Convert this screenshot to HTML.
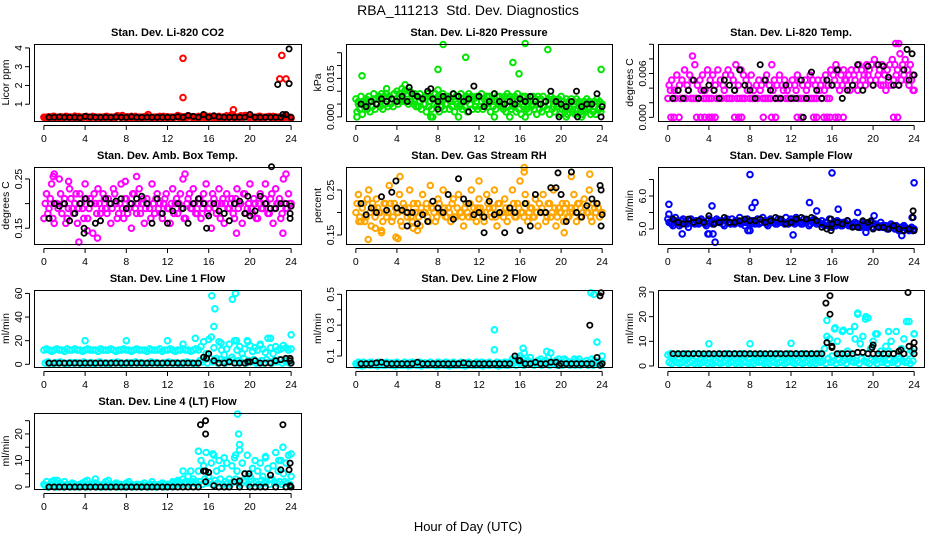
<!DOCTYPE html>
<html><head><meta charset="utf-8"><style>
html,body{margin:0;padding:0;background:#fff;}
svg{display:block;font-family:"Liberation Sans",Arial,sans-serif;}
</style></head><body>
<svg id="chart" width="936" height="540" viewBox="0 0 936 540">
<text x="468" y="15" text-anchor="middle" font-size="14">RBA_111213&#160; Std. Dev. Diagnostics</text>
<text x="468" y="531" text-anchor="middle" font-size="13">Hour of Day (UTC)</text>
</svg>
<script>
// ---------- data (hour grid: colored A from 0 step .25, colored B from .125 step .25, black from .5 step .5) ----------
const co2Red = [.3,.28,.33,.3,.35,.3,.27,.32,.3,.34,.29,.3,.36,.3,.28,.31,.33,.3,.29,.35,.3,.3,.27,.32,.34,.3,.31,.28,.3,.36,.3,.33,.29,.3,.35,.3,.28,.32,.3,.3,.34,.3,.29,.31,.3,.35,.3,.28,.33,.3,.3,.32,.4,.35,.3,.3,.38,.33,.3,.29,.35,.3,.42,.36,.3,.32,.3,.28,.35,.3,.33,.38,.3,.45,.35,.3,.32,.3,.4,.36,.3,.32,.3,.28,.35,.3,.3,.33,.3,.35,.32,.3,.3,.3,.33,.3,.25];
const co2RedB = [.3,.32,.3,.35,.3,.28,.33,.3,.35,.3,.32,.3,.3,.34,.3,.31,.35,.3,.3,.33,.3,.32,.3,.3,.35,.3,.3,.32,.38,.35,.4,.3,.33,.3,.3,.35,.3,.3,.32,.35,.45,.3,.3,.32,.3,.3,.35,.3,.3,.32,.3,.35,.3,.28,.33,.3,.35,.3,.32,.3,.3,.34,.3,.31,.35,.3,.3,.33,.3,.32,.3,.3,.35,.3,.3,.32,.38,.35,.4,.3,.33,.3,.3,.35,.3,.3,.32,.35,.3,.3,.3,.32,.3,.3,.35,.3];
const co2RedOutX = [13.5,13.5,18.4,22.9,23.1,23.5];
const co2RedOutY = [3.45,1.35,0.7,2.35,3.6,2.35];
const co2Black = [.3,.3,.32,.3,.3,.3,.28,.35,.32,.3,.3,.3,.3,.32,.3,.3,.33,.3,.3,.3,.3,.3,.31,.3,.3,.33,.3,.4,.35,.3,.45,.3,.38,.32,.3,.3,.3,.3,.3,.45,.3,.3,.3,.3,.3,.3,.45,.3];
const co2BlackOutX = [22.7,23.8,23.8,23.2];
const co2BlackOutY = [2.05,3.95,2.1,0.45];

const presA = [.007,.006,.008,.005,.007,.008,.006,.009,.007,.008,.009,.008,.009,.008,.007,.009,.010,.009,.011,.010,.009,.010,.008,.009,.008,.009,.007,.008,.009,.008,.007,.009,.008,.007,.009,.008,.008,.007,.009,.008,.008,.009,.007,.008,.009,.008,.007,.008,.008,.009,.007,.008,.008,.007,.009,.008,.008,.007,.008,.009,.008,.007,.008,.009,.007,.008,.008,.007,.006,.008,.007,.008,.007,.008,.006,.007,.008,.007,.006,.007,.008,.006,.007,.006,.007,.006,.007,.006,.005,.006,.007,.006,.005,.006,.007,.006,.005];
const presB = [.002,.003,.001,.004,.003,.002,.004,.003,.005,.004,.003,.005,.004,.005,.004,.006,.005,.006,.007,.006,.005,.006,.005,.004,.004,.003,.005,.002,.004,.003,.005,.004,.002,.004,.003,.005,.003,.004,.002,.005,.004,.003,.004,.002,.005,.003,.004,.003,.004,.003,.005,.004,.002,.004,.003,.005,.004,.003,.002,.004,.003,.004,.002,.003,.001,.004,.003,.002,.004,.003,.001,.003,.002,.004,.003,.001,.003,.002,.004,.001,.003,.002,.001,.003,.002,.001,.003,.002,.001,.002,.003,.001,.002,.001,.003,.002];
const presC = [.005,.006,.006,.007,.007,.008,.008,.009,.007,.006,.006,.007,.006,.005,.006,.007,.006,.005,.006,.006,.005,.006,.007,.006,.006,.005,.006,.006,.005,.006,.005,.006,.005,.004,.005,.005,.004,.005,.004,.005,.004,.004,.005,.004,.003,.004,.004,.003];
const presOutX = [0.6,3.0,4.8,8.0,8.5,10.7,15.3,15.9,16.5,18.7,23.9,8.0,7.5,10,13.5,15,16.5,20.5,22,0.1,7.3];
const presOutY = [.016,.011,.0125,.0185,.0282,.0232,.0212,.0168,.0286,.0262,.0185,.0105,0,0,0,0,0,0,0,0,0];
const presBlack = [.005,.004,.006,.005,.007,.006,.007,.006,.008,.006,.009,.008,.007,.010,.007,.006,.008,.007,.009,.008,.006,.007,.012,.008,.004,.006,.009,.006,.005,.006,.005,.007,.006,.008,.006,.005,.006,.010,.006,.005,.004,.006,.010,.004,.005,.005,.009,.004];
const presBlackOutX = [23.9,19.8,21.6,7.3,11,8,5.2];
const presBlackOutY = [0,0,0,.011,.002,.003,.0115];

const tempA = [.0026,.0037,.0026,.0026,.0037,.0026,.0026,.0026,.0037,.0026,.0026,.0026,.0026,.0037,.0026,.0026,.0026,.0026,.0037,.0026,.0026,.0026,.0037,.0026,.0026,.0026,.0037,.0026,.0026,.0026,.0026,.0037,.0026,.0026,.0026,.0026,.0037,.0026,.0026,.0026,.0026,.0037,.0026,.0026,.0026,.0037,.0026,.0026,.0026,.0026,.0037,.0026,.0026,.0026,.0037,.0026,.0026,.0026,.0026,.0037,.0026,.0037,.0026,.0026,.0044,.0051,.0044,.0037,.0044,.0051,.0044,.0037,.0044,.0051,.0037,.0044,.0051,.0044,.0058,.0051,.0044,.0051,.0058,.0044,.0044,.0037,.0051,.0044,.0051,.0058,.0044,.0051,.0058,.0051,.0044,.0051,.0037];
const tempB = [.0044,.0051,.0037,.0058,.0044,.0051,.0065,.0044,.0058,.0051,.0072,.0044,.0051,.0058,.0037,.0065,.0051,.0058,.0044,.0065,.0051,.0044,.0058,.0065,.0058,.0051,.0072,.0044,.0065,.0058,.0051,.0044,.0058,.0037,.0044,.0051,.0044,.0051,.0058,.0044,.0072,.0051,.0044,.0058,.0044,.0051,.0037,.0044,.0051,.0044,.0058,.0051,.0044,.0051,.0044,.0058,.0051,.0044,.0051,.0044,.0051,.0058,.0044,.0065,.0058,.0072,.0065,.0058,.0065,.0051,.0058,.0065,.0058,.0065,.0072,.0065,.0058,.0072,.0065,.0072,.0079,.0072,.0065,.0072,.0058,.0065,.0072,.0079,.0072,.0065,.0087,.0072,.0079,.0065,.0072,.0058];
const tempOutX = [0.3,0.6,1.1,2.8,3.2,3.6,4.0,4.3,4.6,6.5,6.9,7.2,9.3,10.1,10.5,12.6,13.0,14.2,14.5,15.2,15.5,15.8,16.3,16.6,17.1,22.0,22.4,22.2,22.5,2.4,23.9];
const tempOutY = [0,0,0,0,0,0,0,0,0,0,0,0,0,0,0,0,0,0,0,0,0,0,0,0,0,0,0,.0101,.0101,.0084,.0037];
const tempBlack = [.0026,.0037,.0026,.0037,.0051,.0026,.0037,.0044,.0037,.0026,.0051,.0044,.0037,.0065,.0044,.0037,.0026,.0072,.0051,.0037,.0026,.0026,.0044,.0026,.0026,.0051,.0026,.0062,.0037,.0026,.0051,.0044,.0065,.0026,.0037,.0044,.0072,.0037,.0070,.0044,.0072,.0070,.0055,.0044,.0044,.0065,.0051,.0058];
const tempBlackOutX = [13.2,23.3,23.8];
const tempBlackOutY = [0,.0093,.0087];

const ambA = [.17,.22,.19,.24,.16,.2,.25,.18,.21,.17,.23,.19,.2,.16,.22,.19,.24,.17,.21,.14,.2,.23,.18,.22,.19,.21,.16,.23,.2,.18,.24,.17,.21,.19,.15,.22,.18,.23,.2,.16,.21,.19,.24,.18,.22,.2,.17,.21,.19,.16,.23,.2,.18,.22,.25,.17,.21,.19,.23,.18,.2,.17,.22,.24,.19,.15,.21,.18,.23,.2,.16,.22,.19,.21,.17,.23,.2,.16,.22,.19,.24,.18,.2,.17,.22,.19,.24,.18,.21,.16,.23,.2,.17,.25,.19,.22,.2];
const ambB = [.2,.18,.21,.17,.2,.19,.22,.2,.16,.19,.21,.18,.22,.19,.2,.17,.21,.19,.2,.22,.18,.2,.19,.21,.18,.2,.19,.22,.17,.2,.19,.21,.18,.2,.22,.19,.2,.18,.21,.19,.2,.17,.2,.21,.19,.18,.2,.22,.19,.2,.18,.21,.2,.19,.17,.2,.22,.19,.2,.18,.21,.19,.2,.18,.2,.22,.19,.2,.17,.21,.2,.19,.2,.18,.21,.19,.2,.22,.18,.2,.19,.21,.17,.2,.19,.21,.2,.18,.22,.19,.2,.21,.18,.2,.19,.2];
const ambOutX = [3.4,1,9,13.7,23.5,5.2,18.7,23.2,4.2,0.9,2.4,7.9];
const ambOutY = [.122,.26,.255,.26,.26,.13,.14,.14,.145,.255,.245,.245];
const ambBlack = [.17,.2,.195,.2,.165,.18,.2,.21,.2,.16,.165,.21,.2,.205,.21,.19,.2,.21,.215,.2,.16,.21,.18,.16,.185,.2,.19,.16,.2,.21,.2,.175,.2,.185,.18,.165,.2,.205,.18,.175,.185,.215,.2,.19,.19,.2,.2,.195];
const ambBlackOutX = [22.1,3.9,3.9,15.8,19.8,23.9,23.9];
const ambBlackOutY = [.275,.14,.15,.15,.215,.18,.17];

const rhA = [.2,.24,.18,.22,.19,.25,.17,.21,.23,.2,.16,.22,.19,.26,.18,.22,.2,.24,.17,.21,.19,.25,.18,.2,.22,.17,.24,.2,.19,.26,.21,.18,.23,.2,.25,.19,.21,.18,.23,.19,.24,.2,.17,.22,.19,.25,.21,.18,.23,.2,.18,.24,.21,.19,.25,.17,.22,.2,.23,.18,.21,.25,.19,.22,.27,.2,.24,.18,.21,.19,.23,.17,.2,.24,.18,.22,.19,.25,.17,.21,.2,.18,.22,.19,.21,.24,.18,.22,.19,.23,.2,.25,.18,.21,.22,.19,.2];
const rhB = [.22,.19,.21,.18,.23,.2,.22,.19,.21,.2,.18,.22,.2,.22,.19,.21,.2,.18,.22,.2,.21,.19,.22,.2,.19,.21,.2,.22,.18,.21,.2,.19,.22,.2,.21,.19,.2,.22,.19,.21,.2,.19,.21,.2,.22,.19,.2,.21,.21,.19,.2,.22,.2,.21,.19,.22,.2,.19,.21,.2,.2,.22,.19,.21,.2,.19,.22,.2,.21,.19,.2,.22,.21,.2,.19,.22,.2,.21,.19,.2,.22,.21,.19,.2,.2,.21,.22,.19,.2,.21,.2,.19,.22,.2,.21,.2];
const rhOutX = [1.2,4.1,4.3,16.4,16.4,22.8,20.3,2.5,6,12,0.3,21,1.9,5.6,3.9];
const rhOutY = [.14,.142,.28,.3,.29,.285,.155,.155,.16,.27,.18,.28,.165,.165,.145];
const rhBlack = [.22,.195,.21,.2,.235,.205,.245,.21,.205,.2,.2,.175,.195,.18,.225,.21,.2,.24,.185,.275,.23,.22,.195,.2,.19,.225,.195,.2,.155,.21,.2,.16,.22,.17,.24,.2,.2,.255,.255,.24,.18,.29,.2,.19,.215,.23,.22,.195];
const rhBlackOutX = [23.9,23.9,23.8,19.7,12.5,5,3.9];
const rhBlackOutY = [.25,.17,.26,.288,.155,.17,.27];

const flowA = [5.3,5.2,5.1,5.35,5.25,5.15,5.3,5.2,5.05,5.3,5.2,5.25,5.15,5.3,5.2,5.1,5.3,5.25,5.15,5.3,5.2,5.25,5.1,5.3,5.2,5.3,5.15,5.25,5.35,5.2,5.1,5.3,5.2,5.25,5.15,5.3,5.2,5.35,5.25,5.1,5.3,5.2,5.15,5.3,5.25,5.2,5.35,5.15,5.3,5.2,5.35,5.25,5.15,5.3,5.2,5.1,5.25,5.3,5.15,5.2,5.25,5.1,5.2,5.3,5.05,5.15,5.25,5.2,5.1,5.2,5.25,5.15,5.1,5.2,5.15,5.05,5.2,5.1,5.15,5.2,5.05,5.15,5.1,5.2,5.05,5.1,5.0,5.15,5.05,5.1,4.95,5.05,5.1,5.0,4.95,5.05,5.0];
const flowB = [5.2,5.15,5.25,5.2,5.1,5.25,5.2,5.15,5.25,5.2,5.15,5.2,5.25,5.2,5.15,5.25,5.2,5.15,5.2,5.25,5.2,5.15,5.25,5.2,5.15,5.2,5.25,5.2,5.15,5.25,5.2,5.2,5.15,5.25,5.2,5.15,5.2,5.25,5.15,5.2,5.25,5.2,5.15,5.2,5.25,5.15,5.2,5.25,5.2,5.15,5.25,5.2,5.15,5.2,5.25,5.15,5.2,5.25,5.2,5.15,5.15,5.2,5.1,5.15,5.2,5.1,5.15,5.1,5.2,5.15,5.1,5.15,5.1,5.15,5.05,5.1,5.15,5.05,5.1,5.05,5.15,5.1,5.05,5.1,5.05,5.0,5.05,5.1,5.0,5.05,5.0,4.95,5.05,5.0,5.0,4.95];
const flowOutX = [0.1,0.1,1.4,4.3,4.6,4.4,8.0,8.2,8.5,12.2,13.8,14.5,16,16.6,18.5,19.3,20.1,22.8,24,23.8,8,7.8,3.9,4.0];
const flowOutY = [5.75,5.45,4.85,5.7,4.6,4.85,6.65,5.65,5.8,4.82,5.8,5.55,6.7,5.6,5.5,4.9,5.4,4.8,6.4,5.35,4.95,4.95,4.85,4.85];
const flowBlack = [5.3,5.2,5.15,5.3,5.2,5.25,5.2,5.4,5.15,5.2,5.35,5.2,5.2,5.25,5.3,5.25,5.25,5.3,5.2,5.25,5.35,5.3,5.15,5.2,5.3,5.35,5.3,5.35,5.25,5.05,5.0,5.15,5.2,5.15,5.25,5.05,5.05,5.25,5.2,5.0,5.05,5.05,5.0,5.1,5.0,4.95,5.0,4.95];
const flowBlackOutX = [23.9,23.9,19.8,15.9,15.9];
const flowBlackOutY = [5.55,5.35,5.25,5.3,4.95];

const l1A = [12,13,12,11,12,13,12,12,11,13,12,12,13,12,12,11,12,13,12,12,12,11,13,12,12,12,13,12,11,12,12,13,12,12,11,12,13,12,12,12,11,13,12,12,12,13,11,12,12,13,12,11,12,12,13,12,12,11,12,13,12,15,19,9,21,23,14,5,19,12,8,13,17,6,20,12,15,9,13,20,16,11,14,12,16,13,10,22,14,9,15,12,13,16,14,12,13];
const l1B = [1,2,1,.5,1.5,1,2,1,.5,1,1.5,1,1.5,1,.5,2,1,1,1.5,.5,1,2,1,1,1,.5,1.5,1,2,1,1,.5,1.5,1,1,2,1,1.5,1,.5,1,2,1,1.5,1,.5,1,1.5,2,1,1,1.5,.5,1,1,2,1.5,1,.5,1,3,2,4,1,5,2,3,1,4,2,1,3,2,4,1,3,2,5,1,3,2,4,1,2,3,1,4,2,1,3,2,4,1,3,2,1];
const l1OutX = [4,8,12,13.5,14.7,16.3,16.6,16.5,18.3,18.6,18.7,19.8,22,24,21,17.2];
const l1OutY = [20,20,20,17,22,58,47,32,55,60,20,19,22,25,17,18];
const l1Black = [1,1,1,1,1,1,1,1,1,1,1,1,1,1,1,1,1,1,1,1,1,1,1,1,1,1,1,1,1,1,6,9,3,1,1,2,1,1,1,2,3,1,1,1,3,4,5,1];
const l1BlackOutX = [23.9,23.9,15.8,19.8];
const l1BlackOutY = [5,3,5,2];

const l2A = [.05,.06,.05,.06,.05,.055,.06,.05,.05,.06,.055,.05,.06,.05,.055,.05,.06,.05,.05,.06,.05,.055,.06,.05,.05,.06,.05,.055,.05,.06,.05,.05,.06,.055,.05,.06,.055,.05,.06,.05,.05,.06,.05,.055,.06,.05,.05,.06,.05,.06,.055,.05,.06,.05,.05,.06,.055,.05,.06,.05,.06,.08,.07,.09,.1,.08,.06,.07,.09,.06,.05,.07,.08,.06,.07,.09,.06,.05,.07,.08,.06,.05,.07,.06,.06,.05,.07,.08,.06,.05,.07,.06,.08,.07,.06,.05,.06];
const l2B = [.04,.045,.035,.04,.05,.04,.045,.04,.035,.045,.04,.04,.045,.04,.04,.035,.045,.04,.04,.045,.035,.04,.045,.04,.04,.035,.045,.04,.04,.045,.04,.035,.04,.045,.04,.04,.035,.045,.04,.04,.045,.04,.035,.04,.045,.04,.04,.045,.04,.035,.045,.04,.04,.045,.04,.035,.04,.045,.04,.04,.045,.05,.04,.06,.05,.04,.05,.045,.06,.04,.05,.045,.04,.05,.045,.04,.06,.045,.04,.05,.04,.045,.05,.04,.045,.04,.05,.04,.045,.05,.04,.045,.04,.05,.045,.04];
const l2OutX = [13.5,13.5,16.3,16.4,18.6,19,22.9,23.2,23.5,24,20.3,21.3];
const l2OutY = [.27,.14,.15,.12,.13,.12,.51,.5,.19,.1,.08,.08];
const l2Black = [.05,.05,.05,.055,.06,.05,.05,.05,.05,.05,.05,.06,.05,.05,.05,.05,.05,.05,.05,.05,.055,.05,.05,.05,.05,.05,.05,.05,.05,.05,.1,.07,.05,.05,.06,.05,.05,.06,.06,.05,.05,.05,.05,.05,.05,.05,.09,.05];
const l2BlackOutX = [22.8,23.8,23.9,15.9,23.8,19.8];
const l2BlackOutY = [.3,.49,.51,.07,.04,.04];

const l3A = [4.5,5,4,4.5,5,4.5,4,5,4.5,4.5,5,4,5,4.5,4,4.5,5,4.5,4.5,4,5,4.5,4,5,4.5,4,5,4.5,4.5,5,4,4.5,5,4.5,4,4.5,5,4.5,4,4.5,5,4,4.5,5,4.5,4,4.5,5,4.5,4,5,4.5,4.5,5,4,4.5,5,4.5,4,5,5,7,12,11,4,15,10,5,14,3,6,14,4,11,21,9,12,19,5,7,10,13,4,6,3,8,6,10,5,14,4,7,11,18,5,6,13];
const l3B = [1.5,1,2,1.5,1,1.5,2,1,1.5,2,1,1.5,1,1.5,2,1,1.5,1,2,1.5,1,1.5,2,1,1.5,2,1,1.5,1,2,1.5,1,1.5,1,2,1.5,2,1,1.5,1,2,1.5,1,1.5,2,1,1.5,2,1.5,1,2,1.5,1,1.5,2,1,1.5,1,2,1.5,2,1,3,1.5,2,1,2.5,1.5,2,1,3,2,1.5,2,1,3,2,1.5,1,2.5,2,1,3,1.5,2,1,2.5,1.5,2,1,3,2,1.5,2,1,2];
const l3OutX = [4,8,12,15.5,18.5,19.3,19.5,16.3,17.1,21.5,23.5,24,20.4,18.2];
const l3OutY = [9,9,9.2,18.5,21.5,20,19.5,15.5,14.5,14,18,13,13,16];
const l3Black = [5,5,5,5,5,5,5,5,5,5,5,5,5,5,5,5,5,5,5,5,5,5,5,5,5,5,5,5,5,5,9.5,7.5,5,5,5,5,5.5,5.5,5,5,5,5,5,5,6,5,8,5];
const l3BlackOutX = [15.4,15.8,15.8,16.0,23.4,24,24,20,19.9,22.7];
const l3BlackOutY = [25.5,28.5,21,8,29.8,9.5,7,8.5,7.5,6.5];

const l4A = [1,2,.5,2,1,1.5,.5,1,2,1,.5,1.5,1,.5,1,1.5,2,1,.5,1,1.5,1,.5,1,2,2.5,1,.5,1.5,1,1,.5,1.5,2,1,.5,1,.5,1,1.5,.5,1,2,1,.5,1,1.5,.5,1,.5,2,1,2.5,1.5,3,2,4,6,3,2,6,10,8,13,4,9,12,6,10,7,11,9,3,8,11,6,14,9,5,12,4,7,10,6,9,4,11,7,3,8,13,6,10,5,9,12,4];
const l4B = [.5,0,1,.5,0,.5,1,0,.5,.5,0,1,.5,0,.5,1,0,.5,.5,1,0,.5,0,1,.5,0,.5,1,0,.5,.5,0,1,.5,0,.5,1,0,.5,.5,0,1,.5,0,.5,1,0,.5,1,.5,1.5,1,2,1,1.5,2,1,2,1.5,1,2,1,3,1.5,2,1,2.5,1.5,3,1,2,1.5,1,2,3,1.5,1,2.5,2,1,3,1.5,2,1,2.5,1.5,2,1,3,2,1.5,2,1,2,1.5,1];
const l4OutX = [18.8,18.9,19,15,16.4,23.2,24,21.5,1,1.3,4.2,5,13.5,22.8,18.6];
const l4OutY = [27.5,20,16,13.5,12.5,15,12.5,11.5,2.5,2.5,2.5,3,6,10,12];
const l4Black = [0,0,0,0,0,0,0,0,0,0,0,0,0,0,0,0,0,0,0,0,0,0,0,0,0,0,0,0,0,0,6,5.5,.5,0,0,0,2,0,5,0,0,0,0,4.5,0,6.5,0,0];
const l4BlackOutX = [15.2,15.7,15.7,15.7,15.7,19.9,23.2,23.9,23.8,19.0,23.9];
const l4BlackOutY = [23.5,25,20,6,2,5,23.5,9,6.5,2.3,0.5];

const xTicks = [0,4,8,12,16,20,24];

// ---------- panel layout ----------
const COLX = [[34,301],[346,612],[658,924]];
const ROWY = [[44,121],[167,244],[290,367],[413,489]];

const C_RED='#ff0000', C_GRN='#00e600', C_MAG='#ff00ff', C_ORG='#ffa500', C_BLU='#0000ff', C_CYN='#00ffff', C_BLK='#000000';

function grid(vals,start,step,color){return {vals:vals,start:start,step:step,color:color};}
function pts(xs,ys,color){return {xs:xs,ys:ys,color:color};}

const panels = [
 {name:'co2',title:'Stan. Dev. Li-820 CO2',ylab:'Licor ppm',c:0,r:0,ylim:[0.105,4.21],ticks:[1,2,3,4],labels:['1','2','3','4'],
  series:[grid(co2Red,0,.25,C_RED),grid(co2RedB,.125,.25,C_RED),pts(co2RedOutX,co2RedOutY,C_RED),grid(co2Black,.5,.5,C_BLK),pts(co2BlackOutX,co2BlackOutY,C_BLK)]},
 {name:'pressure',title:'Stan. Dev. Li-820 Pressure',ylab:'kPa',c:1,r:0,ylim:[-0.0016,0.0284],ticks:[0,.005,.01,.015,.02,.025],labels:['0.000','','','0.015','',''],
  series:[grid(presA,0,.25,C_GRN),grid(presB,.125,.25,C_GRN),grid(presC,.25,.5,C_GRN),pts(presOutX,presOutY,C_GRN),grid(presBlack,.5,.5,C_BLK),pts(presBlackOutX,presBlackOutY,C_BLK)]},
 {name:'li820-temp',title:'Stan. Dev. Li-820 Temp.',ylab:'degrees C',c:2,r:0,ylim:[-0.0005,0.01004],ticks:[0,.002,.004,.006,.008,.010],labels:['0.000','','','0.006','',''],
  series:[grid(tempA,0,.25,C_MAG),grid(tempB,.125,.25,C_MAG),pts(tempOutX,tempOutY,C_MAG),grid(tempBlack,.5,.5,C_BLK),pts(tempBlackOutX,tempBlackOutY,C_BLK)]},
 {name:'amb-box-temp',title:'Stan. Dev. Amb. Box Temp.',ylab:'degrees C',c:0,r:1,ylim:[0.118,0.2743],ticks:[.15,.2,.25],labels:['0.15','','0.25'],
  series:[grid(ambA,0,.25,C_MAG),grid(ambB,.125,.25,C_MAG),pts(ambOutX,ambOutY,C_MAG),grid(ambBlack,.5,.5,C_BLK),pts(ambBlackOutX,ambBlackOutY,C_BLK)]},
 {name:'gas-stream-rh',title:'Stan. Dev. Gas Stream RH',ylab:'percent',c:1,r:1,ylim:[0.13,0.301],ticks:[.15,.2,.25],labels:['0.15','','0.25'],
  series:[grid(rhA,0,.25,C_ORG),grid(rhB,.125,.25,C_ORG),pts(rhOutX,rhOutY,C_ORG),grid(rhBlack,.5,.5,C_BLK),pts(rhBlackOutX,rhBlackOutY,C_BLK)]},
 {name:'sample-flow',title:'Stan. Dev. Sample Flow',ylab:'ml/min',c:2,r:1,ylim:[4.545,6.88],ticks:[5,5.5,6,6.5],labels:['5.0','','6.0',''],
  series:[grid(flowA,0,.25,C_BLU),grid(flowB,.125,.25,C_BLU),pts(flowOutX,flowOutY,C_BLU),grid(flowBlack,.5,.5,C_BLK),pts(flowBlackOutX,flowBlackOutY,C_BLK)]},
 {name:'line1-flow',title:'Stan. Dev. Line 1 Flow',ylab:'ml/min',c:0,r:2,ylim:[-2.3,62.9],ticks:[0,20,40,60],labels:['0','20','40','60'],
  series:[grid(l1A,0,.25,C_CYN),grid(l1B,.125,.25,C_CYN),pts(l1OutX,l1OutY,C_CYN),grid(l1Black,.5,.5,C_BLK),pts(l1BlackOutX,l1BlackOutY,C_BLK)]},
 {name:'line2-flow',title:'Stan. Dev. Line 2 Flow',ylab:'ml/min',c:1,r:2,ylim:[0.0286,0.528],ticks:[.1,.2,.3,.4,.5],labels:['0.1','','0.3','','0.5'],
  series:[grid(l2A,0,.25,C_CYN),grid(l2B,.125,.25,C_CYN),pts(l2OutX,l2OutY,C_CYN),grid(l2Black,.5,.5,C_BLK),pts(l2BlackOutX,l2BlackOutY,C_BLK)]},
 {name:'line3-flow',title:'Stan. Dev. Line 3 Flow',ylab:'ml/min',c:2,r:2,ylim:[-0.4,30.8],ticks:[0,10,20,30],labels:['0','10','20','30'],
  series:[grid(l3A,0,.25,C_CYN),grid(l3B,.125,.25,C_CYN),pts(l3OutX,l3OutY,C_CYN),grid(l3Black,.5,.5,C_BLK),pts(l3BlackOutX,l3BlackOutY,C_BLK)]},
 {name:'line4-lt-flow',title:'Stan. Dev. Line 4 (LT) Flow',ylab:'ml/min',c:0,r:3,ylim:[-0.75,27.9],ticks:[0,5,10,15,20,25],labels:['0','','10','','20',''],
  series:[grid(l4A,0,.25,C_CYN),grid(l4B,.125,.25,C_CYN),pts(l4OutX,l4OutY,C_CYN),grid(l4Black,.5,.5,C_BLK),pts(l4BlackOutX,l4BlackOutY,C_BLK)]}
];

const NS='http://www.w3.org/2000/svg';
const svg=document.getElementById('chart');
function mk(tag,attrs,parent){const e=document.createElementNS(NS,tag);for(const k in attrs)e.setAttribute(k,attrs[k]);parent.appendChild(e);return e;}

panels.forEach(function(p){
  const x0=COLX[p.c][0],x1=COLX[p.c][1],y0=ROWY[p.r][0],y1=ROWY[p.r][1];
  const xs=function(h){return x0+(x1-x0)*(h+0.96)/25.92;};
  const ys=function(v){return y1-(y1-y0)*(v-p.ylim[0])/(p.ylim[1]-p.ylim[0]);};
  const g=mk('g',{},svg);
  
  
  const t=mk('text',{x:(x0+x1)/2,y:y0-8,'text-anchor':'middle','font-size':'11','font-weight':'bold'},g);
  t.textContent=p.title;
  
  
  const pg=mk('g',{fill:'none'},g);
  
  
  p.series.forEach(function(s){
    const n=s.vals?s.vals.length:s.xs.length;
    const blk=s.color===C_BLK;
    for(let i=0;i<n;i++){
      const h=s.vals?s.start+i*s.step:s.xs[i];
      const v=s.vals?s.vals[i]:s.ys[i];
      const c=mk('circle',{cx:xs(h).toFixed(1),cy:ys(v).toFixed(1),r:blk?'2.6':'2.8',stroke:s.color,'stroke-width':blk?'1.8':'2'},pg);
      
      
    }
  });
  const b=mk('rect',{x:x0+.5,y:y0+.5,width:x1-x0,height:y1-y0,fill:'none',stroke:'#000','stroke-width':'1'},g);
  
  
  const xa=mk('g',{},g);
  
  
  mk('line',{x1:xs(0),x2:xs(24),y1:y1+4.5,y2:y1+4.5,stroke:'#000'},xa);
  xTicks.forEach(function(h){
    mk('line',{x1:xs(h),x2:xs(h),y1:y1+4.5,y2:y1+9,stroke:'#000'},xa);
    const tl=mk('text',{x:xs(h),y:y1+21,'text-anchor':'middle','font-size':'10.5'},xa);
    tl.textContent=String(h);
    
    
  });
  const ya=mk('g',{},g);
  
  
  const ta=ys(p.ticks[0]),tb=ys(p.ticks[p.ticks.length-1]);
  mk('line',{x1:x0-4.5,x2:x0-4.5,y1:ta,y2:tb,stroke:'#000'},ya);
  p.ticks.forEach(function(v,i){
    const yy=ys(v);
    mk('line',{x1:x0-4.5,x2:x0-9,y1:yy,y2:yy,stroke:'#000'},ya);
    if(p.labels[i]){
      const tl=mk('text',{x:x0-12,y:yy,'text-anchor':'middle','font-size':'10.5',transform:'rotate(-90 '+(x0-12)+' '+yy+')'},ya);
      tl.textContent=p.labels[i];
      
      
    }
  });
  const cy=(y0+y1)/2;
  const yl=mk('text',{x:x0-25,y:cy,'text-anchor':'middle','font-size':'10.5',transform:'rotate(-90 '+(x0-25)+' '+cy+')'},g);
  yl.textContent=p.ylab;
  
  
});
</script>
</body></html>
